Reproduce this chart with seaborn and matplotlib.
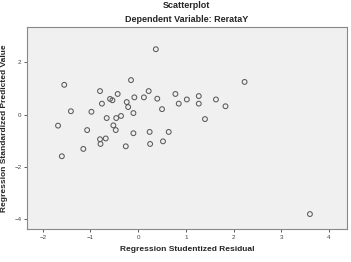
import matplotlib
matplotlib.use('Agg')
import matplotlib.pyplot as plt
import seaborn as sns
import pandas as pd

# values
resid = [0.37, -1.55, -0.15, -0.80, 0.22, -0.43, 0.78, -0.76, -0.59, -0.54,
         -0.24, -0.08, 0.12, 0.40, 0.85, -0.21, 0.50, -1.41, -0.98, -0.10,
         -0.36, -0.66, -0.46, -1.68, -0.52, -1.07, -0.47, -0.10, 0.24, 0.64,
         -0.80, -0.68, 0.52, -0.79, 0.25, -0.26, -1.15, -1.60, 2.23, 1.02,
         1.27, 1.27, 1.63, 1.83, 1.40, 3.60]
pred = [2.50, 1.14, 1.32, 0.90, 0.90, 0.79, 0.79, 0.42, 0.60, 0.55,
        0.48, 0.66, 0.66, 0.61, 0.42, 0.29, 0.21, 0.13, 0.11, 0.06,
        -0.05, -0.13, -0.13, -0.42, -0.41, -0.59, -0.59, -0.71, -0.66, -0.66,
        -0.94, -0.91, -1.02, -1.12, -1.12, -1.21, -1.31, -1.59, 1.25, 0.58,
        0.71, 0.42, 0.58, 0.32, -0.17, -3.80]
x_ticks = [-2, -1, 0, 1, 2, 3, 4]
y_ticks = [-4, -2, 0, 2]

df = pd.DataFrame({'Residual': resid, 'Predicted': pred})

sns.set_style('white')
plt.rcParams['font.family'] = ['Liberation Sans', 'DejaVu Sans']

fig = plt.figure(figsize=(3.51, 2.62), dpi=100, facecolor='white')
ax = fig.add_axes([0.077, 0.126, 0.912, 0.771])
ax.set_facecolor('#F0F0F0')

sns.scatterplot(data=df, x='Residual', y='Predicted', ax=ax, s=12,
                facecolor='none', edgecolor='#5a5a5a', linewidth=0.75, marker='o')

ax.set_xlim(-2.33, 4.38)
ax.set_ylim(-4.37, 3.35)
ax.set_xticks(x_ticks)
ax.set_yticks(y_ticks)
ax.tick_params(axis='both', direction='out', length=2.5, width=0.6, colors='#444444',
               labelsize=4.5, pad=1.5, bottom=True, left=True)
for sp in ax.spines.values():
    sp.set_color('#888888')
    sp.set_linewidth(0.8)

ax.set_xlabel('Regression Studentized Residual', fontsize=6, fontweight='bold', labelpad=5)
ax.set_ylabel('Regression Standardized Predicted Value', fontsize=6, fontweight='bold')
ax.yaxis.set_label_coords(-0.058, 0.5)

fig.text(0.532, 0.98, 'Scatterplot', ha='center', va='center', fontsize=6.5, fontweight='bold')
fig.text(0.532, 0.925, 'Dependent Variable: RerataY', ha='center', va='center',
         fontsize=6.5, fontweight='bold')

plt.savefig('out.png', dpi=100)
